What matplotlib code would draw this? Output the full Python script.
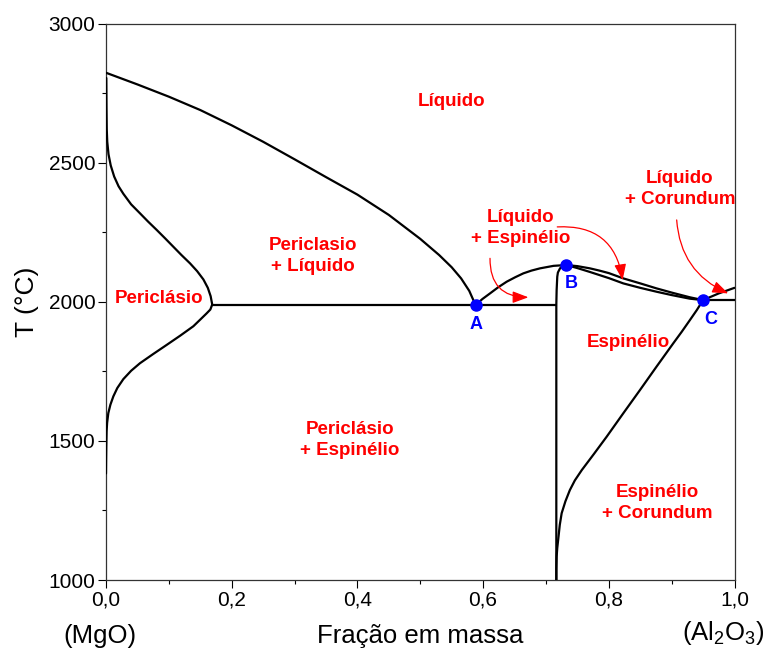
import matplotlib
matplotlib.use("Agg")
import matplotlib.pyplot as plt
from matplotlib.patches import FancyArrowPatch
from matplotlib.ticker import MultipleLocator, FuncFormatter

plt.rcParams["font.family"] = ["Liberation Sans", "DejaVu Sans"]
plt.rcParams["mathtext.default"] = "regular"

# --- phase boundaries (mass fraction Al2O3, temperature in °C) ---
mgo_liquidus_x = [0.0, 0.05, 0.10, 0.15, 0.20, 0.25, 0.30, 0.35, 0.40, 0.45, 0.50, 0.53, 0.55,
                  0.565, 0.578, 0.588]
mgo_liquidus_t = [2823, 2781, 2737, 2689, 2634, 2575, 2512, 2448, 2385, 2312, 2226, 2168, 2124,
                  2084, 2039, 1988]

periclase_solvus_x = [0.0005, 0.0008, 0.0012, 0.002, 0.004, 0.0075, 0.013, 0.020, 0.0276, 0.040,
                      0.054, 0.067, 0.0807, 0.094, 0.107, 0.120, 0.1337, 0.145, 0.155, 0.162,
                      0.1665, 0.169, 0.166, 0.160, 0.150, 0.139, 0.118, 0.0966, 0.075, 0.054,
                      0.040, 0.0276, 0.018, 0.0117, 0.007, 0.0037, 0.0018, 0.001, 0.0005,
                      0.0002, 0.0]
periclase_solvus_t = [2804, 2700, 2620, 2575, 2530, 2490, 2450, 2415, 2388, 2350,
                      2318, 2288, 2258, 2228, 2198, 2168, 2138, 2110, 2080, 2050,
                      2020, 1990, 1972, 1958, 1936, 1912, 1878, 1845, 1812, 1779,
                      1752, 1722, 1690, 1660, 1630, 1600, 1565, 1535, 1480,
                      1430, 1383]

eutectic_mgo_x = [0.169, 0.7165]
eutectic_mgo_t = [1988, 1988]

spinel_liquidus_left_x = [0.588, 0.599, 0.611, 0.624, 0.6375, 0.651, 0.664, 0.677, 0.6905, 0.712, 0.732]
spinel_liquidus_left_t = [1988, 2010, 2030, 2052, 2072, 2088, 2102, 2112, 2120, 2129, 2132]

spinel_liquidus_right_x = [0.732, 0.75, 0.77, 0.785, 0.80, 0.823, 0.85, 0.876, 0.90, 0.929, 0.950]
spinel_liquidus_right_t = [2132, 2128, 2120, 2112, 2103, 2084, 2066, 2048, 2033, 2016, 2006]

spinel_solidus_right_x = [0.732, 0.75, 0.77, 0.785, 0.80, 0.823, 0.85, 0.876, 0.90, 0.929, 0.950]
spinel_solidus_right_t = [2132, 2121, 2107, 2096, 2085, 2066, 2050, 2036, 2024, 2011, 2006]

spinel_mgo_side_x = [0.732, 0.7265, 0.7224, 0.719, 0.718, 0.717, 0.7165, 0.7165]
spinel_mgo_side_t = [2132, 2128, 2120, 2105, 2090, 2042, 1990, 1000]

spinel_al2o3_side_x = [0.950, 0.940, 0.929, 0.916, 0.9027, 0.876, 0.8497, 0.823, 0.7966, 0.776,
                       0.757, 0.746, 0.738, 0.731, 0.725, 0.722, 0.720, 0.718, 0.717, 0.7165,
                       0.7165]
spinel_al2o3_side_t = [2006, 1970, 1934, 1892, 1851, 1767, 1683, 1599, 1515, 1452,
                       1395, 1358, 1323, 1283, 1240, 1198, 1156, 1115, 1084, 1040,
                       1000]

corundum_liquidus_x = [0.950, 0.975, 1.0]
corundum_liquidus_t = [2006, 2030, 2050]

eutectic_al2o3_x = [0.950, 1.0]
eutectic_al2o3_t = [2006, 2006]

# invariant points
point_names = ["A", "B", "C"]
point_x = [0.588, 0.732, 0.950]
point_t = [1988, 2132, 2006]
point_label_x = [0.589, 0.741, 0.963]
point_label_t = [1920, 2067, 1938]

# phase-field labels
field_labels = ["Líquido", "Periclasio\n+ Líquido", "Periclásio", "Líquido\n+ Espinélio",
                "Líquido\n+ Corundum", "Espinélio", "Periclásio\n+ Espinélio", "Espinélio\n+ Corundum"]
field_x = [0.5505, 0.329, 0.0843, 0.660, 0.913, 0.8305, 0.388, 0.877]
field_t = [2718, 2164, 2010, 2265, 2405, 1852, 1503, 1277]

# pointer arrows: start, end, curvature
arrow_start_x = [0.611, 0.718, 0.908]
arrow_start_t = [2156, 2269, 2294]
arrow_end_x = [0.672, 0.822, 0.990]
arrow_end_t = [2016, 2078, 2030]
arrow_rad = [0.5, -0.45, 0.3]

W, H = 767, 651
fig = plt.figure(figsize=(W / 100, H / 100), dpi=100)
ax = fig.add_axes([106 / W, 1 - 580 / H, (734.5 - 106) / W, (580 - 23.5) / H])

lw = 1.6
for xs, ts in [(mgo_liquidus_x, mgo_liquidus_t), (periclase_solvus_x, periclase_solvus_t),
               (eutectic_mgo_x, eutectic_mgo_t), (spinel_liquidus_left_x, spinel_liquidus_left_t),
               (spinel_liquidus_right_x, spinel_liquidus_right_t),
               (spinel_solidus_right_x, spinel_solidus_right_t),
               (spinel_mgo_side_x, spinel_mgo_side_t), (spinel_al2o3_side_x, spinel_al2o3_side_t),
               (corundum_liquidus_x, corundum_liquidus_t), (eutectic_al2o3_x, eutectic_al2o3_t)]:
    ax.plot(xs, ts, color="black", lw=lw, solid_capstyle="round", solid_joinstyle="round", zorder=3)

ax.plot(point_x, point_t, "o", color="#0000FF", ms=8, zorder=5)
for name, lx, lt in zip(point_names, point_label_x, point_label_t):
    ax.text(lx, lt, name, color="#0000FF", fontsize=13, fontweight="bold",
            ha="center", va="center", zorder=6)

for txt, fx, ft in zip(field_labels, field_x, field_t):
    ax.text(fx, ft, txt, color="#FF0000", fontsize=13.5, fontweight="bold",
            ha="center", va="center", linespacing=1.3, zorder=6)

for sx, st, ex, et, rad in zip(arrow_start_x, arrow_start_t, arrow_end_x, arrow_end_t, arrow_rad):
    arr = FancyArrowPatch((sx, st), (ex, et), connectionstyle=f"arc3,rad={rad}",
                          arrowstyle="-|>,head_length=0.8,head_width=0.3",
                          mutation_scale=12, color="#FF0000", lw=0.9,
                          shrinkA=0, shrinkB=0, zorder=4)
    ax.add_patch(arr)

ax.set_xlim(0, 1.0)
ax.set_ylim(1000, 3000)
ax.xaxis.set_major_locator(MultipleLocator(0.2))
ax.xaxis.set_minor_locator(MultipleLocator(0.1))
ax.yaxis.set_major_locator(MultipleLocator(500))
ax.yaxis.set_minor_locator(MultipleLocator(250))
ax.xaxis.set_major_formatter(FuncFormatter(lambda v, p: f"{v:.1f}".replace(".", ",")))
ax.tick_params(axis="both", which="major", direction="out", length=5.5, width=0.8,
               labelsize=15, pad=2, colors="black")
ax.tick_params(axis="both", which="minor", direction="out", length=3, width=0.8)
ax.tick_params(top=False, right=False, which="both")
for s in ax.spines.values():
    s.set_linewidth(0.9)
    s.set_color("#333333")

ax.set_ylabel("T (°C)", fontsize=19, labelpad=7)
fig.text(420 / W, 1 - 636 / H, "Fração em massa", fontsize=18.5, ha="center", va="center")
fig.text(100 / W, 1 - 636 / H, "(MgO)", fontsize=18.5, ha="center", va="center")
fig.text(723 / W, 1 - 633 / H, "(Al$_2$O$_3$)", fontsize=18.5, ha="center", va="center")

fig.savefig("out.png", dpi=100)
